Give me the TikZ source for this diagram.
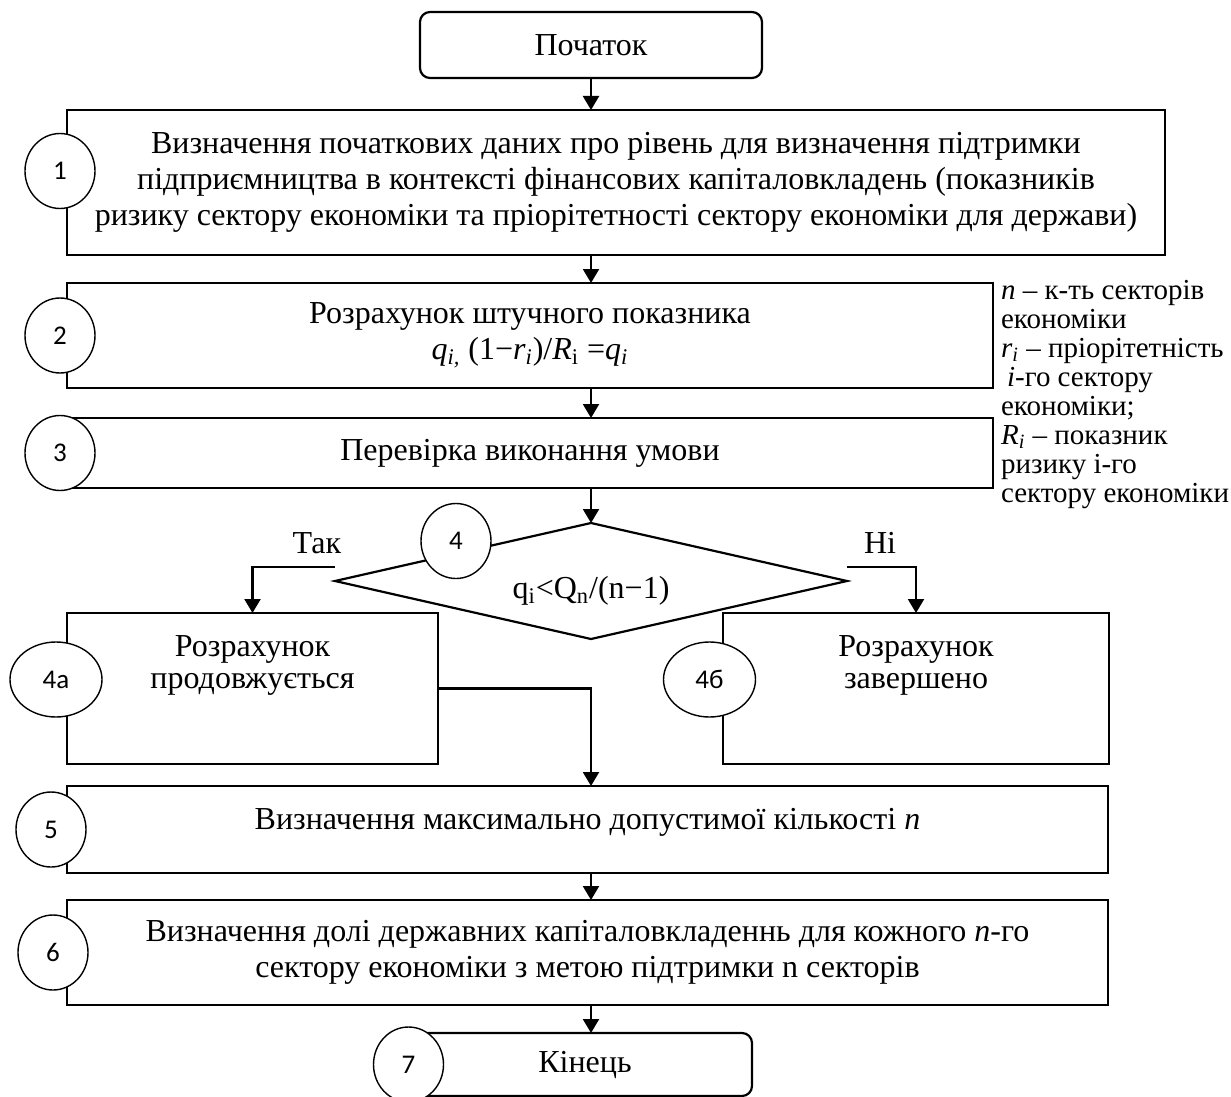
\documentclass[tikz,border=0pt]{standalone}
\usepackage{fontspec}
\setmainfont{Liberation Serif}
\newfontfamily\numfont{Carlito}
\usetikzlibrary{shapes.geometric,arrows.meta,positioning,calc}

\begin{document}
\begin{tikzpicture}[->, >={Triangle[length=7pt,width=8pt]}, x=0.5pt, y=-0.5pt, line width=1.1pt, font=\fontsize{16}{18}\selectfont]
\tikzstyle{block}=[rectangle,draw=black,fill=white,align=center,inner sep=0pt,outer sep=0pt]
\tikzstyle{term}=[block,rounded corners=5pt]
\tikzstyle{decision}=[diamond,draw=black,fill=white,aspect=4.4,inner sep=0pt,outer sep=0pt,minimum width=256pt,minimum height=58pt]
\tikzstyle{num}=[ellipse,draw=black,fill=white,line width=0.7pt,inner sep=0pt,minimum width=35pt,minimum height=37.5pt,font=\numfont\fontsize{13.5}{15}\selectfont]
\tikzstyle{lbl}=[above,inner sep=6pt]
\tikzstyle{note}=[anchor=north west,align=left,inner sep=0pt,font=\fontsize{14.5}{14.5}\selectfont]
\useasboundingbox (0,0) rectangle (1231,1097);

\node[term,minimum width=171pt,minimum height=33pt] (start) at (591,45) {Початок};
\node[block,anchor=north west,minimum width=549pt,minimum height=72.5pt] (b1) at (67,110)
  {Визначення початкових даних про рівень для визначення підтримки\\
   підприємництва в контексті фінансових капіталовкладень (показників\\
   ризику сектору економіки та пріорітетності сектору економіки для держави)};
\node[block,below right=14pt and 0pt of b1.south west,minimum width=463pt,minimum height=52.5pt] (b2)
  {Розрахунок штучного показника\\
   \textit{q\textsubscript{i,}} (1−\textit{r\textsubscript{i}})/\textit{R}\textsubscript{i} =\textit{q\textsubscript{i}}};
\node[block,below right=15pt and 0pt of b2.south west,minimum width=463pt,minimum height=35pt] (b3) {Перевірка виконання умови};
\coordinate (ax) at (start.south |- b3.south);
\node[decision,below=17.5pt of ax,text height=20.5pt] (d4) {q\textsubscript{i}<Q\textsubscript{n}/(n−1)};
\node[block,below right=62.5pt and 0pt of b3.south west,minimum width=185.5pt,minimum height=75.5pt,text depth=26pt] (b4a)
  {Розрахунок\\[-2pt]продовжується};
\node[block,below right=0pt and 142.5pt of b4a.north east,minimum width=193pt,minimum height=75.5pt,text depth=26pt] (b4b)
  {Розрахунок\\[-2pt]завершено};
\node[block,below right=11pt and 0pt of b4a.south west,minimum width=520.5pt,minimum height=43.5pt,text height=11.5pt,text depth=12pt] (b5)
  {Визначення максимально допустимої кількості \textit{n}};
\node[block,below right=13.5pt and 0pt of b5.south west,minimum width=520.5pt,minimum height=52.5pt] (b6)
  {Визначення долі державних капіталовкладеннь для кожного \textit{n}-го\\
   сектору економіки з метою підтримки n секторів};
\node[term,below right=14pt and 175.5pt of b6.south west,minimum width=167pt,minimum height=31.5pt] (fin) {Кінець};

\node[note] (legend) at ([xshift=3.5pt,yshift=2pt]b2.north east)
  {\textit{n} – к-ть секторів\\
   економіки\\
   \textit{r\textsubscript{i}} – пріорітетність\\
   \hspace*{3pt}\textit{i}-го сектору\\
   економіки;\\
   \textit{R\textsubscript{i}} – показник\\
   ризику і-го\\
   сектору економіки};

\path
(start) edge (start.south |- b1.north)
(start.south |- b1.south) edge (start.south |- b2.north)
(start.south |- b2.south) edge (start.south |- b3.north)
(start.south |- b3.south) edge (d4.north)
(start.south |- b5.south) edge (start.south |- b6.north)
(start.south |- b6.south) edge (start.south |- fin.north);
\draw ([yshift=7pt]d4.west) -| (b4a.north) node[lbl,pos=0.11] {Так};
\draw ([yshift=7pt]d4.east) -| (b4b.north) node[lbl,pos=0.24] {Ні};
\draw (b4a.east) -| (start.south |- b5.north);

\node[num] (c1) at ([xshift=-3.5pt,yshift=5.75pt]b1.west) {1};
\node[num] (c2) at ([xshift=-3.5pt]b2.west) {2};
\node[num] (c3) at ([xshift=-3.5pt]b3.west) {3};
\node[num] (c4) at ([xshift=-67.5pt,yshift=20pt]d4.center) {4};
\node[num,minimum width=46pt] (c4a) at ([xshift=-5.5pt,yshift=4.5pt]b4a.west) {4а};
\node[num,minimum width=46pt] (c4b) at ([xshift=-6.75pt,yshift=4.5pt]b4b.west) {4б};
\node[num] (c5) at ([xshift=-8pt]b5.west) {5};
\node[num] (c6) at ([xshift=-7pt]b6.west) {6};
\node[num] (c7) at ([xshift=-4.75pt]fin.west) {7};

\end{tikzpicture}
\end{document}
